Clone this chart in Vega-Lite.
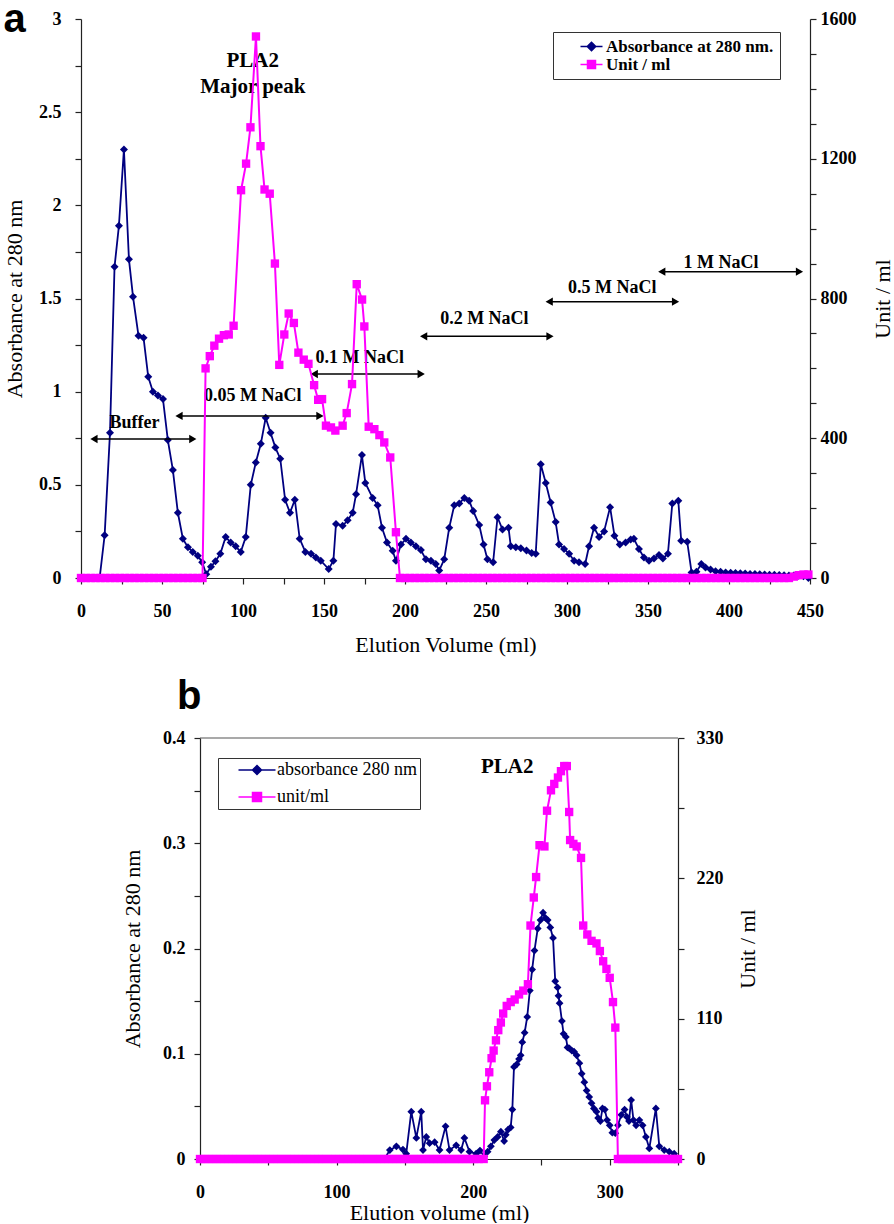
{
  "$schema": "https://vega.github.io/schema/vega-lite/v6.json",
  "background": "white",
  "padding": {"left": 3, "top": 0, "right": 3, "bottom": 0},
  "config": {
    "view": {"stroke": null},
    "font": "Liberation Serif",
    "axis": {"labelFont": "Liberation Serif", "labelFontSize": 18, "labelFontWeight": "bold", "labelColor": "black", "titleFont": "Liberation Serif", "titleFontSize": 22, "titleFontWeight": "normal", "titleColor": "black", "domainColor": "#222", "domainWidth": 1.2, "tickColor": "#222", "tickWidth": 1.2, "tickSize": 6, "grid": false, "labelFlush": false, "labelOverlap": false, "labelBound": false}
  },
  "datasets": {
    "a_abs": [
      {"v":0,"y":0},{"v":3,"y":0},{"v":6,"y":0},{"v":9,"y":0},{"v":11.5,"y":0},
      {"v":14.6,"y":0.23},{"v":17.9,"y":0.78},{"v":20.7,"y":1.67},{"v":23.4,"y":1.89},{"v":26.5,"y":2.3},{"v":29.6,"y":1.71},{"v":32.1,"y":1.51},{"v":35.5,"y":1.3},{"v":38.6,"y":1.29},{"v":41.5,"y":1.08},{"v":44.4,"y":1.0},{"v":47.5,"y":0.98},{"v":50.6,"y":0.96},{"v":53.6,"y":0.74},{"v":56.7,"y":0.58},{"v":59.8,"y":0.35},{"v":62.9,"y":0.21},{"v":66,"y":0.165},{"v":69,"y":0.14},{"v":72.1,"y":0.12},{"v":74.8,"y":0.085},{"v":77.3,"y":0.02},
      {"v":80.2,"y":0.06},{"v":83,"y":0.09},{"v":86,"y":0.13},{"v":89.3,"y":0.22},{"v":92.4,"y":0.19},{"v":95.5,"y":0.17},{"v":98.6,"y":0.14},{"v":101.7,"y":0.22},{"v":104.8,"y":0.5},{"v":107.9,"y":0.62},{"v":111,"y":0.72},{"v":114,"y":0.86},{"v":117,"y":0.78},{"v":120,"y":0.7},{"v":123,"y":0.64},{"v":126,"y":0.42},{"v":129,"y":0.35},{"v":132,"y":0.42},{"v":135,"y":0.21},{"v":138.5,"y":0.14},{"v":142,"y":0.13},{"v":145,"y":0.11},{"v":148,"y":0.093},{"v":152.9,"y":0.048},{"v":155.8,"y":0.093},{"v":157.4,"y":0.29},{"v":161.5,"y":0.28},{"v":164.6,"y":0.31},{"v":167.7,"y":0.35},{"v":169.8,"y":0.45},{"v":173.4,"y":0.66},{"v":175.5,"y":0.51},{"v":180,"y":0.43},{"v":183.1,"y":0.39},{"v":185.8,"y":0.27},{"v":188.9,"y":0.19},{"v":192.4,"y":0.146},{"v":194.4,"y":0.093},{"v":197.5,"y":0.18},{"v":200.6,"y":0.21},{"v":203.6,"y":0.19},{"v":206.7,"y":0.17},{"v":209.8,"y":0.15},{"v":212.9,"y":0.1},{"v":216,"y":0.093},{"v":219,"y":0.075},{"v":221.1,"y":0.04},{"v":224.2,"y":0.1},{"v":227.3,"y":0.27},{"v":230.4,"y":0.39},{"v":233.5,"y":0.4},{"v":236.6,"y":0.43},{"v":239.6,"y":0.415},{"v":242.1,"y":0.36},{"v":245.8,"y":0.285},{"v":248.5,"y":0.18},{"v":250.9,"y":0.1},{"v":254.4,"y":0.084},{"v":257.1,"y":0.326},{"v":260.2,"y":0.26},{"v":263.9,"y":0.27},{"v":265.3,"y":0.17},{"v":268.4,"y":0.165},{"v":271.5,"y":0.16},{"v":275,"y":0.147},{"v":278.2,"y":0.134},{"v":280.7,"y":0.13},{"v":283.8,"y":0.61},{"v":286.9,"y":0.51},{"v":289.9,"y":0.405},{"v":293,"y":0.3},{"v":295.1,"y":0.18},{"v":298.2,"y":0.156},{"v":301.3,"y":0.13},{"v":304.4,"y":0.093},{"v":307.4,"y":0.084},{"v":311.2,"y":0.075},{"v":313.6,"y":0.17},{"v":316.7,"y":0.27},{"v":319.8,"y":0.22},{"v":322.9,"y":0.25},{"v":326.6,"y":0.38},{"v":329.3,"y":0.227},{"v":332.6,"y":0.18},{"v":336.2,"y":0.19},{"v":339.3,"y":0.206},{"v":341.3,"y":0.21},{"v":344.4,"y":0.156},{"v":347.5,"y":0.11},{"v":350.6,"y":0.093},{"v":353.7,"y":0.105},{"v":356.8,"y":0.123},{"v":359.2,"y":0.105},{"v":362.3,"y":0.13},{"v":365,"y":0.4},{"v":368.7,"y":0.415},{"v":370.5,"y":0.2},{"v":374.2,"y":0.195},{"v":376.9,"y":0.03},{"v":379.9,"y":0.034},{"v":382.9,"y":0.075},{"v":385.5,"y":0.057},{"v":388.6,"y":0.045},{"v":391.7,"y":0.036},{"v":394.8,"y":0.034},{"v":397.9,"y":0.03},{"v":401,"y":0.028},{"v":404,"y":0.027},{"v":407,"y":0.025},{"v":410,"y":0.024},{"v":413,"y":0.022},{"v":416,"y":0.021},{"v":419,"y":0.02},{"v":422,"y":0.019},{"v":425,"y":0.018},{"v":428,"y":0.017},{"v":431,"y":0.016},{"v":434,"y":0.015},{"v":437,"y":0.014},{"v":440,"y":0.013},{"v":443,"y":0.012},{"v":446,"y":0.01},{"v":449,"y":0}
    ],
    "a_unit": [
      {"v":0,"y":0},{"v":3,"y":0},{"v":6,"y":0},{"v":9,"y":0},{"v":12,"y":0},{"v":15,"y":0},{"v":18,"y":0},{"v":21,"y":0},{"v":24,"y":0},{"v":27,"y":0},{"v":30,"y":0},{"v":33,"y":0},{"v":36,"y":0},{"v":39,"y":0},{"v":42,"y":0},{"v":45,"y":0},{"v":48,"y":0},{"v":51,"y":0},{"v":54,"y":0},{"v":57,"y":0},{"v":60,"y":0},{"v":63,"y":0},{"v":66,"y":0},{"v":69,"y":0},{"v":72,"y":0},{"v":75,"y":0},
      {"v":76.9,"y":600},{"v":79.5,"y":635},{"v":82.3,"y":665},{"v":85.2,"y":685},{"v":88.2,"y":695},{"v":91.2,"y":697},{"v":94.2,"y":722},{"v":98.8,"y":1110},{"v":101.9,"y":1186},{"v":104.6,"y":1290},{"v":108,"y":1550},{"v":110.8,"y":1236},{"v":113.3,"y":1112},{"v":116.5,"y":1100},{"v":119.7,"y":900},{"v":122.4,"y":610},{"v":125.5,"y":697},{"v":128.2,"y":757},{"v":131.4,"y":730},{"v":134.2,"y":645},{"v":137.5,"y":625},{"v":140.4,"y":613},{"v":143.9,"y":552},{"v":146.4,"y":510},{"v":148.8,"y":512},{"v":151.2,"y":436},{"v":154.3,"y":431},{"v":157,"y":422},{"v":161.5,"y":436},{"v":164,"y":472},{"v":167.3,"y":555},{"v":170.2,"y":841},{"v":173.5,"y":797},{"v":174.9,"y":720},{"v":177.6,"y":433},{"v":181.1,"y":426},{"v":184.2,"y":409},{"v":187.2,"y":388},{"v":190.9,"y":345},{"v":194.4,"y":131},{"v":196.9,"y":0},
      {"v":200,"y":0},{"v":203,"y":0},{"v":206,"y":0},{"v":209,"y":0},{"v":212,"y":0},{"v":215,"y":0},{"v":218,"y":0},{"v":221,"y":0},{"v":224,"y":0},{"v":227,"y":0},{"v":230,"y":0},{"v":233,"y":0},{"v":236,"y":0},{"v":239,"y":0},{"v":242,"y":0},{"v":245,"y":0},{"v":248,"y":0},{"v":251,"y":0},{"v":254,"y":0},{"v":257,"y":0},{"v":260,"y":0},{"v":263,"y":0},{"v":266,"y":0},{"v":269,"y":0},{"v":272,"y":0},{"v":275,"y":0},{"v":278,"y":0},{"v":281,"y":0},{"v":284,"y":0},{"v":287,"y":0},{"v":290,"y":0},{"v":293,"y":0},{"v":296,"y":0},{"v":299,"y":0},{"v":302,"y":0},{"v":305,"y":0},{"v":308,"y":0},{"v":311,"y":0},{"v":314,"y":0},{"v":317,"y":0},{"v":320,"y":0},{"v":323,"y":0},{"v":326,"y":0},{"v":329,"y":0},{"v":332,"y":0},{"v":335,"y":0},{"v":338,"y":0},{"v":341,"y":0},{"v":344,"y":0},{"v":347,"y":0},{"v":350,"y":0},{"v":353,"y":0},{"v":356,"y":0},{"v":359,"y":0},{"v":362,"y":0},{"v":365,"y":0},{"v":368,"y":0},{"v":371,"y":0},{"v":374,"y":0},{"v":377,"y":0},{"v":380,"y":0},{"v":383,"y":0},{"v":386,"y":0},{"v":389,"y":0},{"v":392,"y":0},{"v":395,"y":0},{"v":398,"y":0},{"v":401,"y":0},{"v":404,"y":0},{"v":407,"y":0},{"v":410,"y":0},{"v":413,"y":0},{"v":416,"y":0},{"v":419,"y":0},{"v":422,"y":0},{"v":425,"y":0},{"v":428,"y":0},{"v":431,"y":0},{"v":434,"y":0},{"v":437,"y":0},{"v":440,"y":4},{"v":443,"y":8},{"v":446,"y":10},{"v":449,"y":10}
    ],
    "a_arrows": [
      {"label":"Buffer","x1":8,"x2":69,"y":0.746,"lx":33,"ly":0.83},
      {"label":"0.05 M NaCl","x1":60.5,"x2":147.5,"y":0.87,"lx":106,"ly":0.975},
      {"label":"0.1 M NaCl","x1":144,"x2":210,"y":1.095,"lx":172,"ly":1.18},
      {"label":"0.2 M NaCl","x1":211.5,"x2":289.5,"y":1.297,"lx":249,"ly":1.39},
      {"label":"0.5 M NaCl","x1":289,"x2":367,"y":1.483,"lx":328,"ly":1.556},
      {"label":"1 M NaCl","x1":358.5,"x2":443.5,"y":1.644,"lx":395,"ly":1.69}
    ],
    "a_text": [
      {"label":"PLA2","x":106,"y":2.775},
      {"label":"Major peak","x":106,"y":2.635}
    ],
    "b_abs": [
      {"v":0,"y":0},{"v":5,"y":0},{"v":10,"y":0},{"v":15,"y":0},{"v":20,"y":0},{"v":25,"y":0},{"v":30,"y":0},{"v":35,"y":0},{"v":40,"y":0},{"v":45,"y":0},{"v":50,"y":0},{"v":55,"y":0},{"v":60,"y":0},{"v":65,"y":0},{"v":70,"y":0},{"v":75,"y":0},{"v":80,"y":0},{"v":85,"y":0},{"v":90,"y":0},{"v":95,"y":0},{"v":100,"y":0},{"v":105,"y":0},{"v":110,"y":0},{"v":115,"y":0},{"v":120,"y":0},{"v":125,"y":0},{"v":130,"y":0},{"v":135,"y":0},
      {"v":139,"y":0.0085},{"v":143.8,"y":0.012},{"v":148.6,"y":0.009},{"v":151,"y":0.005},{"v":154.7,"y":0.045},{"v":158.4,"y":0.02},{"v":162,"y":0.045},{"v":163.3,"y":0.0085},{"v":165.7,"y":0.021},{"v":168.1,"y":0.015},{"v":171.8,"y":0.016},{"v":175.4,"y":0.0085},{"v":179.8,"y":0.031},{"v":182.7,"y":0.0085},{"v":187.6,"y":0.013},{"v":191.2,"y":0.0085},{"v":193.6,"y":0.02},{"v":197.3,"y":0.007},{"v":202.2,"y":0.005},{"v":205,"y":0.008},{"v":208.2,"y":0.0025},{"v":210.6,"y":0.007},{"v":213,"y":0.012},{"v":215.5,"y":0.018},{"v":217.9,"y":0.021},{"v":220.3,"y":0.026},{"v":222.7,"y":0.017},{"v":223.9,"y":0.023},{"v":225.6,"y":0.028},{"v":227.5,"y":0.03},{"v":228.7,"y":0.047},{"v":229.9,"y":0.0875},{"v":231.9,"y":0.09},{"v":233.6,"y":0.095},{"v":234.8,"y":0.0985},{"v":236,"y":0.111},{"v":237.7,"y":0.12},{"v":239.6,"y":0.135},{"v":241.5,"y":0.16},{"v":243.2,"y":0.18},{"v":244.9,"y":0.198},{"v":247.3,"y":0.219},{"v":249.3,"y":0.227},{"v":251.2,"y":0.234},{"v":252.9,"y":0.229},{"v":254.6,"y":0.227},{"v":256.5,"y":0.22},{"v":258.5,"y":0.21},{"v":260.1,"y":0.169},{"v":261.8,"y":0.163},{"v":262.5,"y":0.155},{"v":263.3,"y":0.148},{"v":265,"y":0.131},{"v":266.2,"y":0.119},{"v":267.9,"y":0.116},{"v":269.1,"y":0.106},{"v":270.5,"y":0.105},{"v":272.2,"y":0.103},{"v":273.9,"y":0.102},{"v":275.8,"y":0.0985},{"v":277.8,"y":0.091},{"v":279.5,"y":0.081},{"v":281.4,"y":0.073},{"v":283.1,"y":0.065},{"v":285,"y":0.059},{"v":286.7,"y":0.053},{"v":288.4,"y":0.048},{"v":290.3,"y":0.045},{"v":291.5,"y":0.039},{"v":293.2,"y":0.036},{"v":294.7,"y":0.048},{"v":296.4,"y":0.047},{"v":298.1,"y":0.037},{"v":300,"y":0.032},{"v":301.9,"y":0.025},{"v":304.1,"y":0.0245},{"v":306,"y":0.032},{"v":308.5,"y":0.042},{"v":310.9,"y":0.047},{"v":312.6,"y":0.04},{"v":314.1,"y":0.036},{"v":315.7,"y":0.056},{"v":317.4,"y":0.037},{"v":319.3,"y":0.032},{"v":321.7,"y":0.037},{"v":324.1,"y":0.032},{"v":326.5,"y":0.021},{"v":329,"y":0.01},{"v":333.8,"y":0.048},{"v":336.3,"y":0.012},{"v":339.9,"y":0.0085},{"v":343.6,"y":0.007},{"v":347.2,"y":0.005}
    ],
    "b_unit": [
      {"v":0,"y":0},{"v":3,"y":0},{"v":6,"y":0},{"v":9,"y":0},{"v":12,"y":0},{"v":15,"y":0},{"v":18,"y":0},{"v":21,"y":0},{"v":24,"y":0},{"v":27,"y":0},{"v":30,"y":0},{"v":33,"y":0},{"v":36,"y":0},{"v":39,"y":0},{"v":42,"y":0},{"v":45,"y":0},{"v":48,"y":0},{"v":51,"y":0},{"v":54,"y":0},{"v":57,"y":0},{"v":60,"y":0},{"v":63,"y":0},{"v":66,"y":0},{"v":69,"y":0},{"v":72,"y":0},{"v":75,"y":0},{"v":78,"y":0},{"v":81,"y":0},{"v":84,"y":0},{"v":87,"y":0},{"v":90,"y":0},{"v":93,"y":0},{"v":96,"y":0},{"v":99,"y":0},{"v":102,"y":0},{"v":105,"y":0},{"v":108,"y":0},{"v":111,"y":0},{"v":114,"y":0},{"v":117,"y":0},{"v":120,"y":0},{"v":123,"y":0},{"v":126,"y":0},{"v":129,"y":0},{"v":132,"y":0},{"v":135,"y":0},{"v":138,"y":0},{"v":141,"y":0},{"v":144,"y":0},{"v":147,"y":0},{"v":150,"y":0},{"v":153,"y":0},{"v":156,"y":0},{"v":159,"y":0},{"v":162,"y":0},{"v":165,"y":0},{"v":168,"y":0},{"v":171,"y":0},{"v":174,"y":0},{"v":177,"y":0},{"v":180,"y":0},{"v":183,"y":0},{"v":186,"y":0},{"v":189,"y":0},{"v":192,"y":0},{"v":195,"y":0},{"v":198,"y":0},{"v":201,"y":0},{"v":204,"y":0},{"v":207.7,"y":0},
      {"v":208.7,"y":46},{"v":210.1,"y":57},{"v":211.8,"y":68},{"v":213.5,"y":79},{"v":215,"y":85},{"v":216.7,"y":93},{"v":218.4,"y":101},{"v":220.3,"y":107},{"v":222,"y":114},{"v":224.6,"y":120},{"v":227.5,"y":123},{"v":230.4,"y":125},{"v":233.6,"y":129},{"v":236.7,"y":132},{"v":240.1,"y":137},{"v":242,"y":183},{"v":244.4,"y":205},{"v":246.1,"y":221},{"v":248.6,"y":246},{"v":252.2,"y":245},{"v":254.1,"y":273},{"v":257,"y":289},{"v":259.4,"y":294},{"v":262.1,"y":299},{"v":264.3,"y":304},{"v":266.7,"y":308},{"v":268.6,"y":308},{"v":270.3,"y":272},{"v":271,"y":250},{"v":273.4,"y":247},{"v":275.8,"y":245},{"v":279,"y":236},{"v":280.6,"y":183},{"v":283.6,"y":176},{"v":286.7,"y":171},{"v":290.3,"y":169},{"v":292.8,"y":163},{"v":295.2,"y":155},{"v":297.6,"y":149},{"v":300,"y":142},{"v":302.4,"y":123},{"v":304.1,"y":103},{"v":306,"y":0},
      {"v":309,"y":0},{"v":312,"y":0},{"v":315,"y":0},{"v":318,"y":0},{"v":321,"y":0},{"v":324,"y":0},{"v":327,"y":0},{"v":330,"y":0},{"v":333,"y":0},{"v":336,"y":0},{"v":339,"y":0},{"v":342,"y":0},{"v":345,"y":0},{"v":348,"y":0},{"v":350,"y":0}
    ],
    "b_text": [
      {"label":"PLA2","x":225,"y":0.372}
    ]
  },
  "resolve": {"scale": {"color": "independent"}, "legend": {"color": "independent"}},
  "spacing": 22,
  "vconcat": [
    {
      "width": 729,
      "height": 559,
      "title": {"text": "a", "anchor": "start", "frame": "bounds", "font": "Liberation Sans", "fontSize": 40, "fontWeight": "bold", "color": "black", "baseline": "alphabetic", "offset": 0, "dy": 62},
      "layer": [
        {
          "layer": [
            {
              "data": {"name": "a_abs"},
              "mark": {"type": "line", "strokeWidth": 1.8, "point": {"shape": "diamond", "filled": true, "size": 64, "opacity": 1}},
              "encoding": {
                "x": {"field": "v", "type": "quantitative", "title": "Elution Volume (ml)", "scale": {"domain": [0, 450], "nice": false, "zero": false},
                      "axis": {"values": [0,25,50,75,100,125,150,175,200,225,250,275,300,325,350,375,400,425,450], "format": "~r", "labelExpr": "datum.value % 50 == 0 ? datum.label : ''", "labelPadding": 18, "titlePadding": 14}},
                "y": {"field": "y", "type": "quantitative", "title": "Absorbance at 280 nm", "scale": {"domain": [0, 3], "nice": false},
                      "axis": {"values": [0,0.25,0.5,0.75,1,1.25,1.5,1.75,2,2.25,2.5,2.75,3], "format": "~r", "labelExpr": "round(datum.value*100) % 50 == 0 ? datum.label : ''", "labelPadding": 14, "titlePadding": 12}},
                "color": {"datum": "Absorbance at 280 nm.", "scale": {"domain": ["Absorbance at 280 nm.", "Unit / ml"], "range": ["#000080", "#FF00FF"]},
                  "legend": {"orient": "none", "legendX": 472, "legendY": 13, "title": null, "strokeColor": "#333", "fillColor": "white", "padding": 6, "labelFont": "Liberation Serif", "labelFontSize": 17, "labelFontWeight": "bold", "labelColor": "black", "labelLimit": 400, "labelOffset": 6, "symbolOffset": 24, "symbolSize": 100, "rowPadding": 0, "symbolStrokeWidth": 1.5,
                    "encode": {"symbols": {"update": {
                      "shape": {"signal": "datum.value == 'Unit / ml' ? 'M-2.2,0H2.2M-0.8,-0.8H0.8V0.8H-0.8Z' : 'M-2.2,0H2.2M0,-0.85L0.85,0L0,0.85L-0.85,0Z'"},
                      "fill": {"signal": "datum.value == 'Unit / ml' ? '#FF00FF' : '#000080'"},
                      "stroke": {"signal": "datum.value == 'Unit / ml' ? '#FF00FF' : '#000080'"},
                      "strokeWidth": {"value": 1.5},
                      "opacity": {"value": 1}}}}}}
              }
            },
            {
              "data": {"name": "a_arrows"},
              "mark": {"type": "rule", "color": "black", "strokeWidth": 1.5},
              "encoding": {
                "x": {"field": "x1", "type": "quantitative", "title": "Elution Volume (ml)"},
                "x2": {"field": "x2"},
                "y": {"field": "y", "type": "quantitative", "title": "Absorbance at 280 nm"}
              }
            },
            {
              "data": {"name": "a_arrows"},
              "mark": {"type": "point", "shape": "triangle-left", "filled": true, "color": "black", "size": 70, "opacity": 1},
              "encoding": {
                "x": {"field": "x1", "type": "quantitative", "title": "Elution Volume (ml)"},
                "y": {"field": "y", "type": "quantitative", "title": "Absorbance at 280 nm"}
              }
            },
            {
              "data": {"name": "a_arrows"},
              "mark": {"type": "point", "shape": "triangle-right", "filled": true, "color": "black", "size": 70, "opacity": 1},
              "encoding": {
                "x": {"field": "x2", "type": "quantitative", "title": "Elution Volume (ml)"},
                "y": {"field": "y", "type": "quantitative", "title": "Absorbance at 280 nm"}
              }
            },
            {
              "data": {"name": "a_arrows"},
              "mark": {"type": "text", "font": "Liberation Serif", "fontWeight": "bold", "fontSize": 18, "color": "black"},
              "encoding": {
                "x": {"field": "lx", "type": "quantitative", "title": "Elution Volume (ml)"},
                "y": {"field": "ly", "type": "quantitative", "title": "Absorbance at 280 nm"},
                "text": {"field": "label"}
              }
            },
            {
              "data": {"name": "a_text"},
              "mark": {"type": "text", "font": "Liberation Serif", "fontWeight": "bold", "fontSize": 21, "color": "black"},
              "encoding": {
                "x": {"field": "x", "type": "quantitative", "title": "Elution Volume (ml)"},
                "y": {"field": "y", "type": "quantitative", "title": "Absorbance at 280 nm"},
                "text": {"field": "label"}
              }
            }
          ]
        },
        {
          "data": {"name": "a_unit"},
          "mark": {"type": "line", "strokeWidth": 2, "point": {"shape": "square", "filled": true, "size": 70, "opacity": 1}},
          "encoding": {
            "x": {"field": "v", "type": "quantitative", "title": "Elution Volume (ml)"},
            "y": {"field": "y", "type": "quantitative", "title": "Unit / ml", "scale": {"domain": [0, 1600], "nice": false},
                  "axis": {"orient": "right", "values": [0,100,200,300,400,500,600,700,800,900,1000,1100,1200,1300,1400,1500,1600], "format": "~r", "labelExpr": "datum.value % 400 == 0 ? datum.label : ''", "labelPadding": 4, "titlePadding": 16, "titleAngle": 270, "titleBaseline": "top"}},
            "color": {"datum": "Unit / ml"}
          }
        }
      ],
      "resolve": {"scale": {"y": "independent"}}
    },
    {
      "spacing": 0,
      "hconcat": [
        {
          "width": 40,
          "height": 20,
          "data": {"values": [{}]},
          "mark": {"type": "point", "opacity": 0}
        },
        {
          "width": 478,
          "height": 421,
          "title": {"text": "b", "anchor": "start", "frame": "group", "font": "Liberation Sans", "fontSize": 40, "fontWeight": "bold", "color": "black", "baseline": "alphabetic", "offset": 0, "dx": -23, "dy": 20},
          "layer": [
            {
              "layer": [
                {
                  "data": {"values": [{}]},
                  "mark": {"type": "rule", "color": "#555", "strokeWidth": 1.2},
                  "encoding": {"y": {"datum": 0.4, "type": "quantitative", "title": "Absorbance at 280 nm"}}
                },
                {
                  "data": {"name": "b_abs"},
                  "mark": {"type": "line", "strokeWidth": 1.8, "point": {"shape": "diamond", "filled": true, "size": 60, "opacity": 1}},
                  "encoding": {
                    "x": {"field": "v", "type": "quantitative", "title": "Elution volume (ml)", "scale": {"domain": [0, 350], "nice": false, "zero": false},
                          "axis": {"values": [0,50,100,150,200,250,300,350], "format": "~r", "labelExpr": "datum.value % 100 == 0 ? datum.label : ''", "labelPadding": 18, "titlePadding": 1}},
                    "y": {"field": "y", "type": "quantitative", "title": "Absorbance at 280 nm", "scale": {"domain": [0, 0.4], "nice": false},
                          "axis": {"values": [0,0.05,0.1,0.15,0.2,0.25,0.3,0.35,0.4], "format": "~r", "labelExpr": "round(datum.value*100) % 10 == 0 ? datum.label : ''", "labelPadding": 9, "titlePadding": 18}},
                    "color": {"datum": "absorbance 280 nm", "scale": {"domain": ["absorbance 280 nm", "unit/ml"], "range": ["#000080", "#FF00FF"]},
                      "legend": {"orient": "none", "legendX": 137, "legendY": 20, "title": null, "strokeColor": "#333", "fillColor": "white", "padding": 3, "labelFont": "Liberation Serif", "labelFontSize": 18, "labelFontWeight": "normal", "labelColor": "black", "labelLimit": 400, "labelOffset": 11, "symbolOffset": 27, "symbolSize": 100, "rowPadding": 9, "symbolStrokeWidth": 1.5,
                        "encode": {"symbols": {"update": {
                          "shape": {"signal": "datum.value == 'unit/ml' ? 'M-3.7,0H3.7M-0.9,-0.9H0.9V0.9H-0.9Z' : 'M-3.7,0H3.7M0,-0.9L0.9,0L0,0.9L-0.9,0Z'"},
                          "fill": {"signal": "datum.value == 'unit/ml' ? '#FF00FF' : '#000080'"},
                          "stroke": {"signal": "datum.value == 'unit/ml' ? '#FF00FF' : '#000080'"},
                          "strokeWidth": {"value": 1.5},
                          "opacity": {"value": 1}}}}}}
                  }
                },
                {
                  "data": {"name": "b_text"},
                  "mark": {"type": "text", "font": "Liberation Serif", "fontWeight": "bold", "fontSize": 21, "color": "black"},
                  "encoding": {
                    "x": {"field": "x", "type": "quantitative", "title": "Elution volume (ml)"},
                    "y": {"field": "y", "type": "quantitative", "title": "Absorbance at 280 nm"},
                    "text": {"field": "label"}
                  }
                }
              ]
            },
            {
              "data": {"name": "b_unit"},
              "mark": {"type": "line", "strokeWidth": 2, "point": {"shape": "square", "filled": true, "size": 70, "opacity": 1}},
              "encoding": {
                "x": {"field": "v", "type": "quantitative", "title": "Elution volume (ml)"},
                "y": {"field": "y", "type": "quantitative", "title": "Unit / ml", "scale": {"domain": [0, 330], "nice": false},
                      "axis": {"orient": "right", "values": [0,55,110,165,220,275,330], "format": "~r", "labelExpr": "datum.value % 110 == 0 ? datum.label : ''", "labelPadding": 12, "titlePadding": 14, "titleAngle": 270, "titleBaseline": "top"}},
                "color": {"datum": "unit/ml"}
              }
            }
          ],
          "resolve": {"scale": {"y": "independent"}}
        }
      ]
    }
  ]
}
